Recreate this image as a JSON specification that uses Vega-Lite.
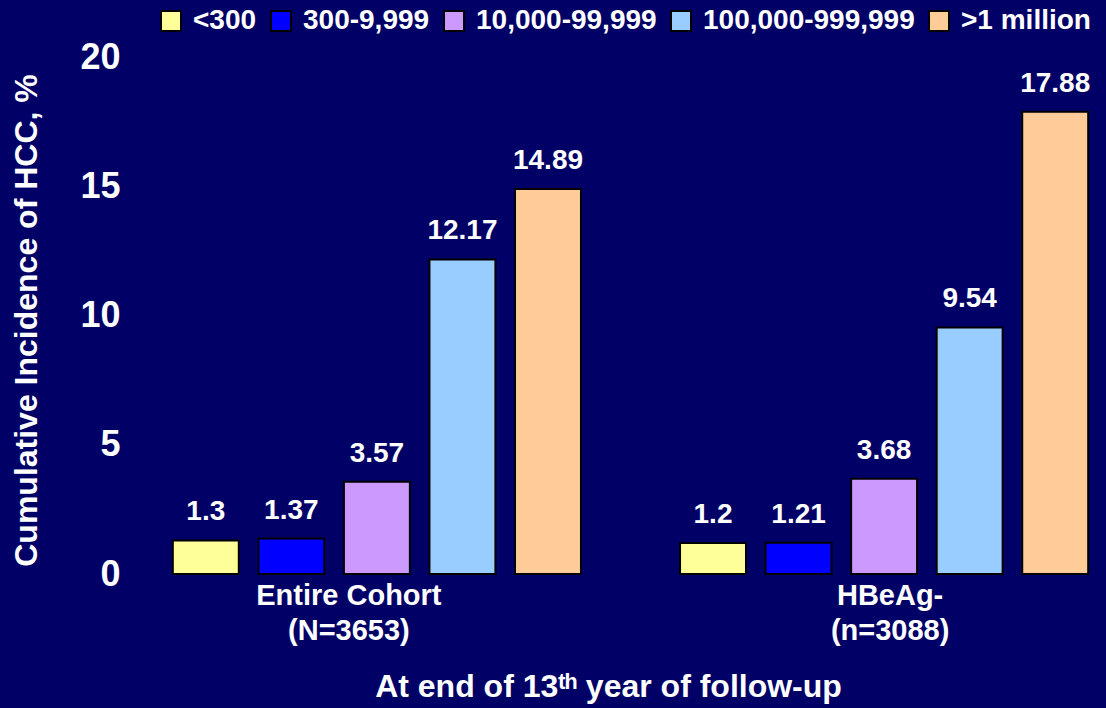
{
  "$schema": "https://vega.github.io/schema/vega-lite/v6.json",
  "autosize": {"type": "none"},
  "width": 945,
  "height": 517,
  "padding": {"left": 158, "top": 57, "right": 3, "bottom": 134},
  "background": "#000066",
  "config": {
    "font": "Liberation Sans",
    "view": {"stroke": null},
    "axis": {"domain": false, "ticks": false, "grid": false, "labelColor": "white", "titleColor": "white", "labelFontWeight": "bold", "titleFontWeight": "bold"}
  },
  "data": {
    "values": [
      {"group": "Entire Cohort\n(N=3653)", "level": "<300", "value": 1.3},
      {"group": "Entire Cohort\n(N=3653)", "level": "300-9,999", "value": 1.37},
      {"group": "Entire Cohort\n(N=3653)", "level": "10,000-99,999", "value": 3.57},
      {"group": "Entire Cohort\n(N=3653)", "level": "100,000-999,999", "value": 12.17},
      {"group": "Entire Cohort\n(N=3653)", "level": ">1 million", "value": 14.89},
      {"group": "HBeAg-\n(n=3088)", "level": "<300", "value": 1.2},
      {"group": "HBeAg-\n(n=3088)", "level": "300-9,999", "value": 1.21},
      {"group": "HBeAg-\n(n=3088)", "level": "10,000-99,999", "value": 3.68},
      {"group": "HBeAg-\n(n=3088)", "level": "100,000-999,999", "value": 9.54},
      {"group": "HBeAg-\n(n=3088)", "level": ">1 million", "value": 17.88}
    ]
  },
  "encoding": {
    "x": {
      "field": "group", "type": "nominal", "sort": null,
      "scale": {"paddingInner": 0.1567, "paddingOuter": 0.0099},
      "axis": {
        "labelAngle": 0,
        "labelFontSize": 29,
        "labelLineHeight": 35,
        "labelPadding": 7,
        "labelLimit": 0,
        "labelExpr": "split(datum.label, '\\n')",
        "labelOffset": {"condition": {"test": "indexof(datum.value, 'Entire') === 0", "value": -28}, "value": 6},
        "title": "At end of 13ᵗʰ year of follow-up",
        "titleFontSize": 32,
        "titlePadding": 26,
        "titleX": 450
      }
    },
    "xOffset": {
      "field": "level", "type": "nominal",
      "sort": ["<300", "300-9,999", "10,000-99,999", "100,000-999,999", ">1 million"],
      "scale": {"paddingInner": 0.229, "paddingOuter": 0.1145}
    },
    "y": {
      "field": "value", "type": "quantitative",
      "scale": {"domain": [0, 20]},
      "axis": {
        "values": [0, 5, 10, 15, 20],
        "labelFontSize": 36,
        "labelPadding": 38,
        "title": "Cumulative Incidence of HCC, %",
        "titleFontSize": 32,
        "titlePadding": 36,
        "titleY": 263
      }
    }
  },
  "layer": [
    {
      "mark": {"type": "bar", "stroke": "black", "strokeWidth": 2},
      "encoding": {
        "color": {
          "field": "level", "type": "nominal",
          "sort": ["<300", "300-9,999", "10,000-99,999", "100,000-999,999", ">1 million"],
          "scale": {
            "domain": ["<300", "300-9,999", "10,000-99,999", "100,000-999,999", ">1 million"],
            "range": ["#FFFF99", "#0000FF", "#CC99FF", "#99CCFF", "#FFCC99"]
          },
          "legend": {
            "orient": "none",
            "legendX": -1,
            "legendY": -50,
            "direction": "horizontal",
            "title": null,
            "symbolType": "square",
            "symbolSize": 400,
            "symbolStrokeColor": "black",
            "symbolStrokeWidth": 2,
            "symbolOpacity": 1,
            "labelColor": "white",
            "labelFontSize": 28,
            "labelFontWeight": "bold",
            "labelLimit": 0,
            "labelOffset": 8,
            "columnPadding": 10
          }
        }
      }
    },
    {
      "mark": {"type": "text", "baseline": "bottom", "dy": -14, "fontSize": 28, "fontWeight": "bold", "color": "white"},
      "encoding": {"text": {"field": "value", "type": "quantitative"}}
    }
  ]
}
